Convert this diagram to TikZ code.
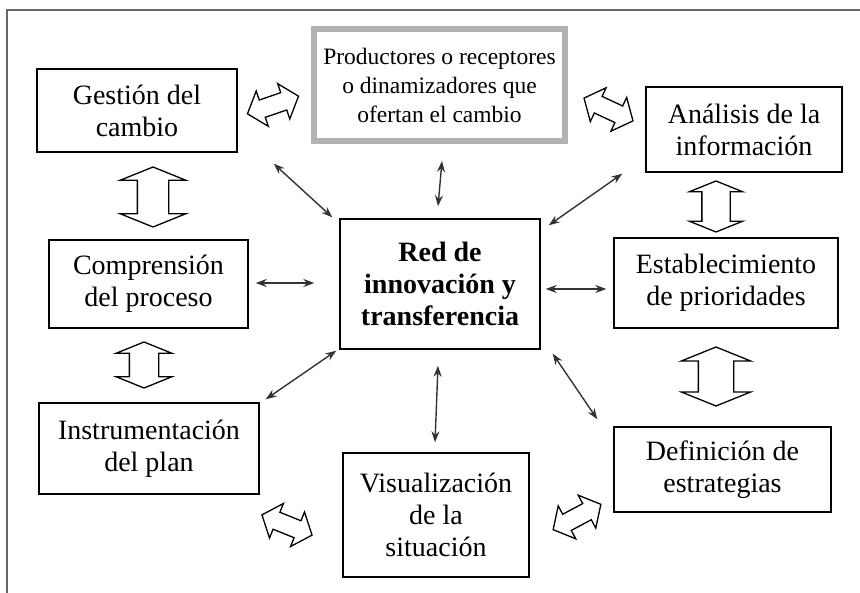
\documentclass[tikz,border=0pt]{standalone}
\usepackage{fontspec}
\setmainfont{Liberation Serif}
\usetikzlibrary{shapes.geometric, shapes.arrows, arrows, arrows.meta, calc}

\begin{document}
\begin{tikzpicture}[x=1pt,y=-1pt]
      \tikzstyle{box} = [rectangle, draw=black, line width=1.4pt, align=center, inner sep=0pt, font=\fontsize{28}{32}\selectfont]
      \tikzstyle{greybox} = [rectangle, draw=black!30, line width=6pt, align=center, inner sep=0pt, font=\fontsize{23.5}{29}\selectfont]
      \tikzstyle{hub} = [box, font=\fontsize{28}{32}\selectfont\bfseries]
      \tikzstyle{arrow} = [line width=1.4pt, draw=black!80, {Stealth[length=11pt,width=8pt]}-{Stealth[length=11pt,width=8pt]}]
      \tikzstyle{fat} = [double arrow, draw=black, line width=1.3pt, fill=white, inner xsep=0pt]
      \tikzstyle{fatv} = [fat, rotate=90, double arrow tip angle=136]
      \tikzstyle{fatd} = [fat, double arrow tip angle=100, double arrow head extend=9.5pt, inner ysep=8.5pt, minimum height=54pt]

      \useasboundingbox (0,0) rectangle (860,593);
      \draw [black!60, line width=2pt] (7,593) -- (7,10) -- (860,10);

      \node (red) [hub, minimum width=200pt, minimum height=130pt] at (440,284) {Red de\\innovación y\\transferencia};
      \node (prod) [greybox, minimum width=251pt, minimum height=112pt] at (439.5,85) {Productores o receptores\\o dinamizadores que\\ofertan el cambio};
      \node (gest) [box, minimum width=200pt, minimum height=83pt] at (137,110.5) {Gestión del\\cambio};
      \node (anal) [box, minimum width=196pt, minimum height=85pt] at (744,129.5) {Análisis de la\\información};
      \node (comp) [box, minimum width=199pt, minimum height=88pt] at (148.5,284) {Comprensión\\del proceso};
      \node (estab) [box, minimum width=224pt, minimum height=90pt] at (726,283) {Establecimiento\\de prioridades};
      \node (instr) [box, minimum width=220pt, minimum height=91pt] at (149,448.5) {Instrumentación\\del plan};
      \node (vis) [box, minimum width=186pt, minimum height=124pt] at (436,515) {Visualización\\de la\\situación};
      \node (def) [box, minimum width=217pt, minimum height=85pt] at (722.5,469.5) {Definición de\\estrategias};

      % hollow arrows round the ring
      \node (gc) [fatv, minimum height=60pt, inner ysep=15pt, double arrow head extend=17pt] at (153,197) {};
      \node (ci) [fatv, minimum height=46pt, inner ysep=14pt, double arrow head extend=13pt] at (144,365) {};
      \node (ae) [fatv, minimum height=51pt, inner ysep=13.5pt, double arrow head extend=12.5pt] at (716,206.5) {};
      \node (ed) [fatv, minimum height=59pt, inner ysep=17pt, double arrow head extend=17pt] at (716,376.5) {};
      \node (gp) [fatd, rotate=19] at (273,105) {};
      \node (pa) [fatd, rotate=-25] at (608.5,109.5) {};
      \node (iv) [fatd, rotate=-22] at (287,525) {};
      \node (vd) [fatd, rotate=28] at (577,517) {};

      % links to the hub
      \draw [arrow] ($(gest.south east)+(36,11)$) -- ($(red.north west)+(-7,-1)$);
      \draw [arrow] ($(prod.south)+(2.5,17)$) -- ($(red.north)+(-2,-12)$);
      \draw [arrow] ($(anal.south west)+(-23,1)$) -- ($(red.north east)+(8,7)$);
      \draw [arrow] ($(comp.east)+(7,-1)$) -- ($(red.west)+(-25,-1)$);
      \draw [arrow] ($(red.east)+(5,5)$) -- ($(estab.west)+(-7,6)$);
      \draw [arrow] ($(red.south west)+(-3,1)$) -- ($(instr.north east)+(6,-3)$);
      \draw [arrow] ($(red.south)+(-2,16)$) -- ($(vis.north)+(-1,-10)$);
      \draw [arrow] ($(red.south east)+(12,4)$) -- ($(def.north west)+(-16,-7)$);

\end{tikzpicture}
\end{document}
